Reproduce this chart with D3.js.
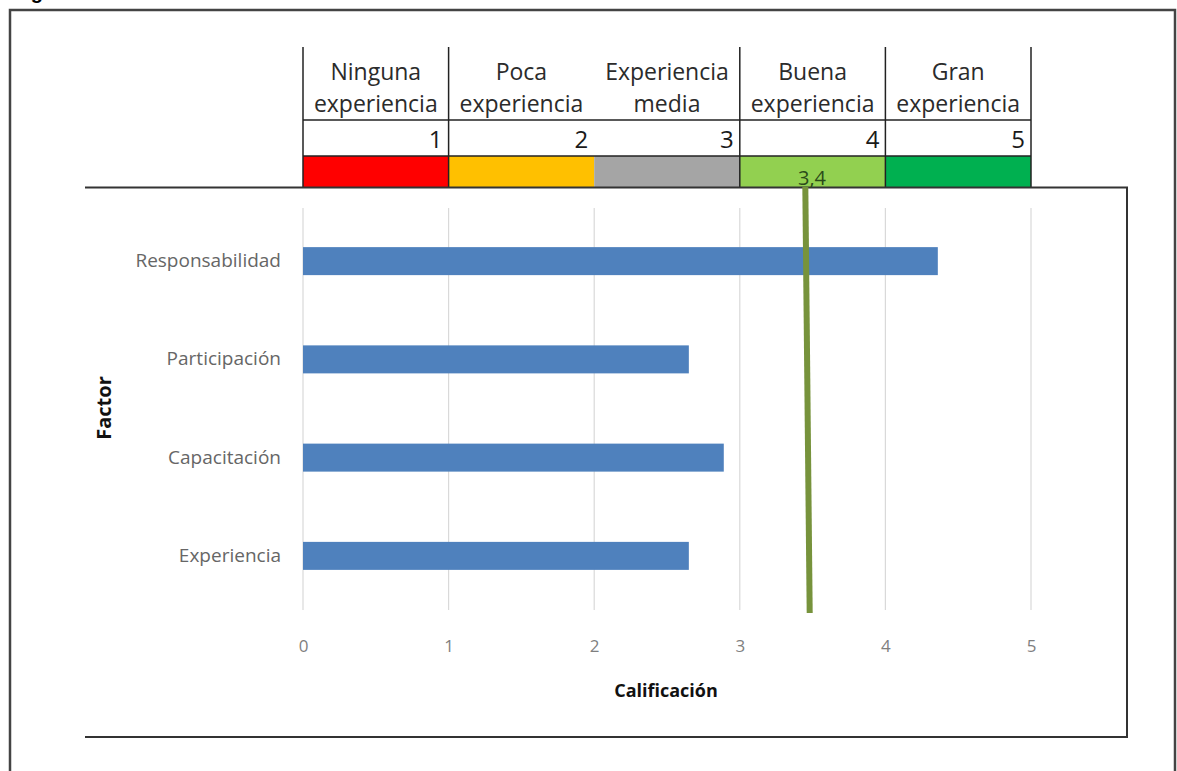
<!DOCTYPE html>
<html><head><meta charset="utf-8">
<script src="https://cdn.jsdelivr.net/npm/d3@7"></script>
<style>body{margin:0;background:#fff}svg{display:block}</style>
</head><body>
<svg id="c" width="1177" height="771"></svg>
<script>
// ---- data ----
const categories = ["Responsabilidad", "Participación", "Capacitación", "Experiencia"];
const values = [4.36, 2.65, 2.89, 2.65];
const xTicks = [0, 1, 2, 3, 4, 5];
const levelLine1 = ["Ninguna", "Poca", "Experiencia", "Buena", "Gran"];
const levelLine2 = ["experiencia", "experiencia", "media", "experiencia", "experiencia"];
const levelNumbers = [1, 2, 3, 4, 5];
const averageLabel = "3,4";
const averageTop = 3.45, averageBottom = 3.48;
const xTitle = "Calificación";
const yTitle = "Factor";

// ---- styles ----
const levelColors = ["#FF0000", "#FFC000", "#A5A5A5", "#92D050", "#00B050"];
const barColor = "#4F81BD";
const font = "'Open Sans', sans-serif";

const svg = d3.select("#c");
const x = d3.scaleLinear().domain([0, 5]).range([303, 1031]);
const y = d3.scaleBand().domain(categories).range([212, 605]).paddingInner(0.715).paddingOuter(0.3575);

// top caption, clipped by the page edge as in the reference
svg.append("text").attr("x", 13).attr("y", -1).attr("font-family", "'Liberation Sans', Arial")
  .attr("font-weight", "bold").attr("font-size", 20).attr("fill", "#000").text("Figura");

// outer frame
svg.append("path").attr("d", "M10,790 L10,10 L1175,10 L1175,790")
  .attr("fill", "none").attr("stroke", "#444").attr("stroke-width", 2.5);

// ---- header table ----
const cols = d3.range(5);
const hdr = svg.append("g");
hdr.selectAll("rect.lvl").data(cols).join("rect")
  .attr("x", i => x(i)).attr("y", 156).attr("width", i => x(i + 1) - x(i)).attr("height", 31)
  .attr("fill", i => levelColors[i]);
hdr.selectAll("text.l1").data(cols).join("text")
  .attr("x", i => (x(i) + x(i + 1)) / 2).attr("y", 80).attr("text-anchor", "middle")
  .attr("font-family", font).attr("font-size", 23).attr("fill", "#2b2b2b").text(i => levelLine1[i]);
hdr.selectAll("text.l2").data(cols).join("text")
  .attr("x", i => (x(i) + x(i + 1)) / 2).attr("y", 112).attr("text-anchor", "middle")
  .attr("font-family", font).attr("font-size", 23).attr("fill", "#2b2b2b").text(i => levelLine2[i]);
hdr.selectAll("text.num").data(cols).join("text")
  .attr("x", i => x(i + 1) - 6).attr("y", 148).attr("text-anchor", "end")
  .attr("font-family", font).attr("font-size", 24).attr("fill", "#1a1a1a").text(i => levelNumbers[i]);
hdr.selectAll("line.v").data([0, 1, 3, 4, 5]).join("line")
  .attr("x1", d => x(d)).attr("x2", d => x(d)).attr("y1", 47).attr("y2", 187)
  .attr("stroke", "#222").attr("stroke-width", 1.5);
hdr.selectAll("line.h").data([120, 156]).join("line")
  .attr("x1", x(0)).attr("x2", x(5)).attr("y1", d => d).attr("y2", d => d)
  .attr("stroke", "#222").attr("stroke-width", 1.5);

// ---- inner chart box (top, right, bottom) ----
svg.append("path").attr("d", "M85,187.5 L1127,187.5 L1127,737 L85,737")
  .attr("fill", "none").attr("stroke", "#333").attr("stroke-width", 2);

// gridlines
svg.append("g").selectAll("line").data(xTicks).join("line")
  .attr("x1", d => x(d)).attr("x2", d => x(d)).attr("y1", 208).attr("y2", 610)
  .attr("stroke", "#D9D9D9").attr("stroke-width", 1.2);

// bars
svg.append("g").selectAll("rect").data(categories).join("rect")
  .attr("x", x(0)).attr("y", d => y(d)).attr("width", (d, i) => x(values[i]) - x(0))
  .attr("height", y.bandwidth()).attr("fill", barColor);

// x axis labels
const xAxis = d3.axisBottom(x).tickValues(xTicks).tickSize(0).tickPadding(0).tickFormat(d3.format("d"));
const gx = svg.append("g").attr("transform", "translate(0,640)").call(xAxis);
gx.select(".domain").remove();
gx.selectAll("text").attr("font-family", font).attr("font-size", 17).attr("fill", "#7f7f7f");

// y axis labels
const yAxis = d3.axisLeft(y).tickSize(0).tickPadding(0);
const gy = svg.append("g").attr("transform", "translate(281,0)").call(yAxis);
gy.select(".domain").remove();
gy.selectAll("text").attr("font-family", font).attr("font-size", 19).attr("fill", "#666");

// axis titles
svg.append("text").attr("x", 666).attr("y", 697).attr("text-anchor", "middle")
  .attr("font-family", font).attr("font-weight", "bold").attr("font-size", 18).attr("fill", "#111").text(xTitle);
svg.append("text").attr("transform", "translate(111,408) rotate(-90)").attr("text-anchor", "middle")
  .attr("font-family", font).attr("font-weight", "bold").attr("font-size", 20).attr("fill", "#111").text(yTitle);

// average line and label
svg.append("line").attr("x1", x(averageTop)).attr("y1", 187).attr("x2", x(averageBottom)).attr("y2", 613)
  .attr("stroke", "#77933C").attr("stroke-width", 6);
svg.append("text").attr("x", 812).attr("y", 185).attr("text-anchor", "middle")
  .attr("font-family", font).attr("font-size", 20).attr("fill", "#2a4a1a").text(averageLabel);
</script>
</body></html>
